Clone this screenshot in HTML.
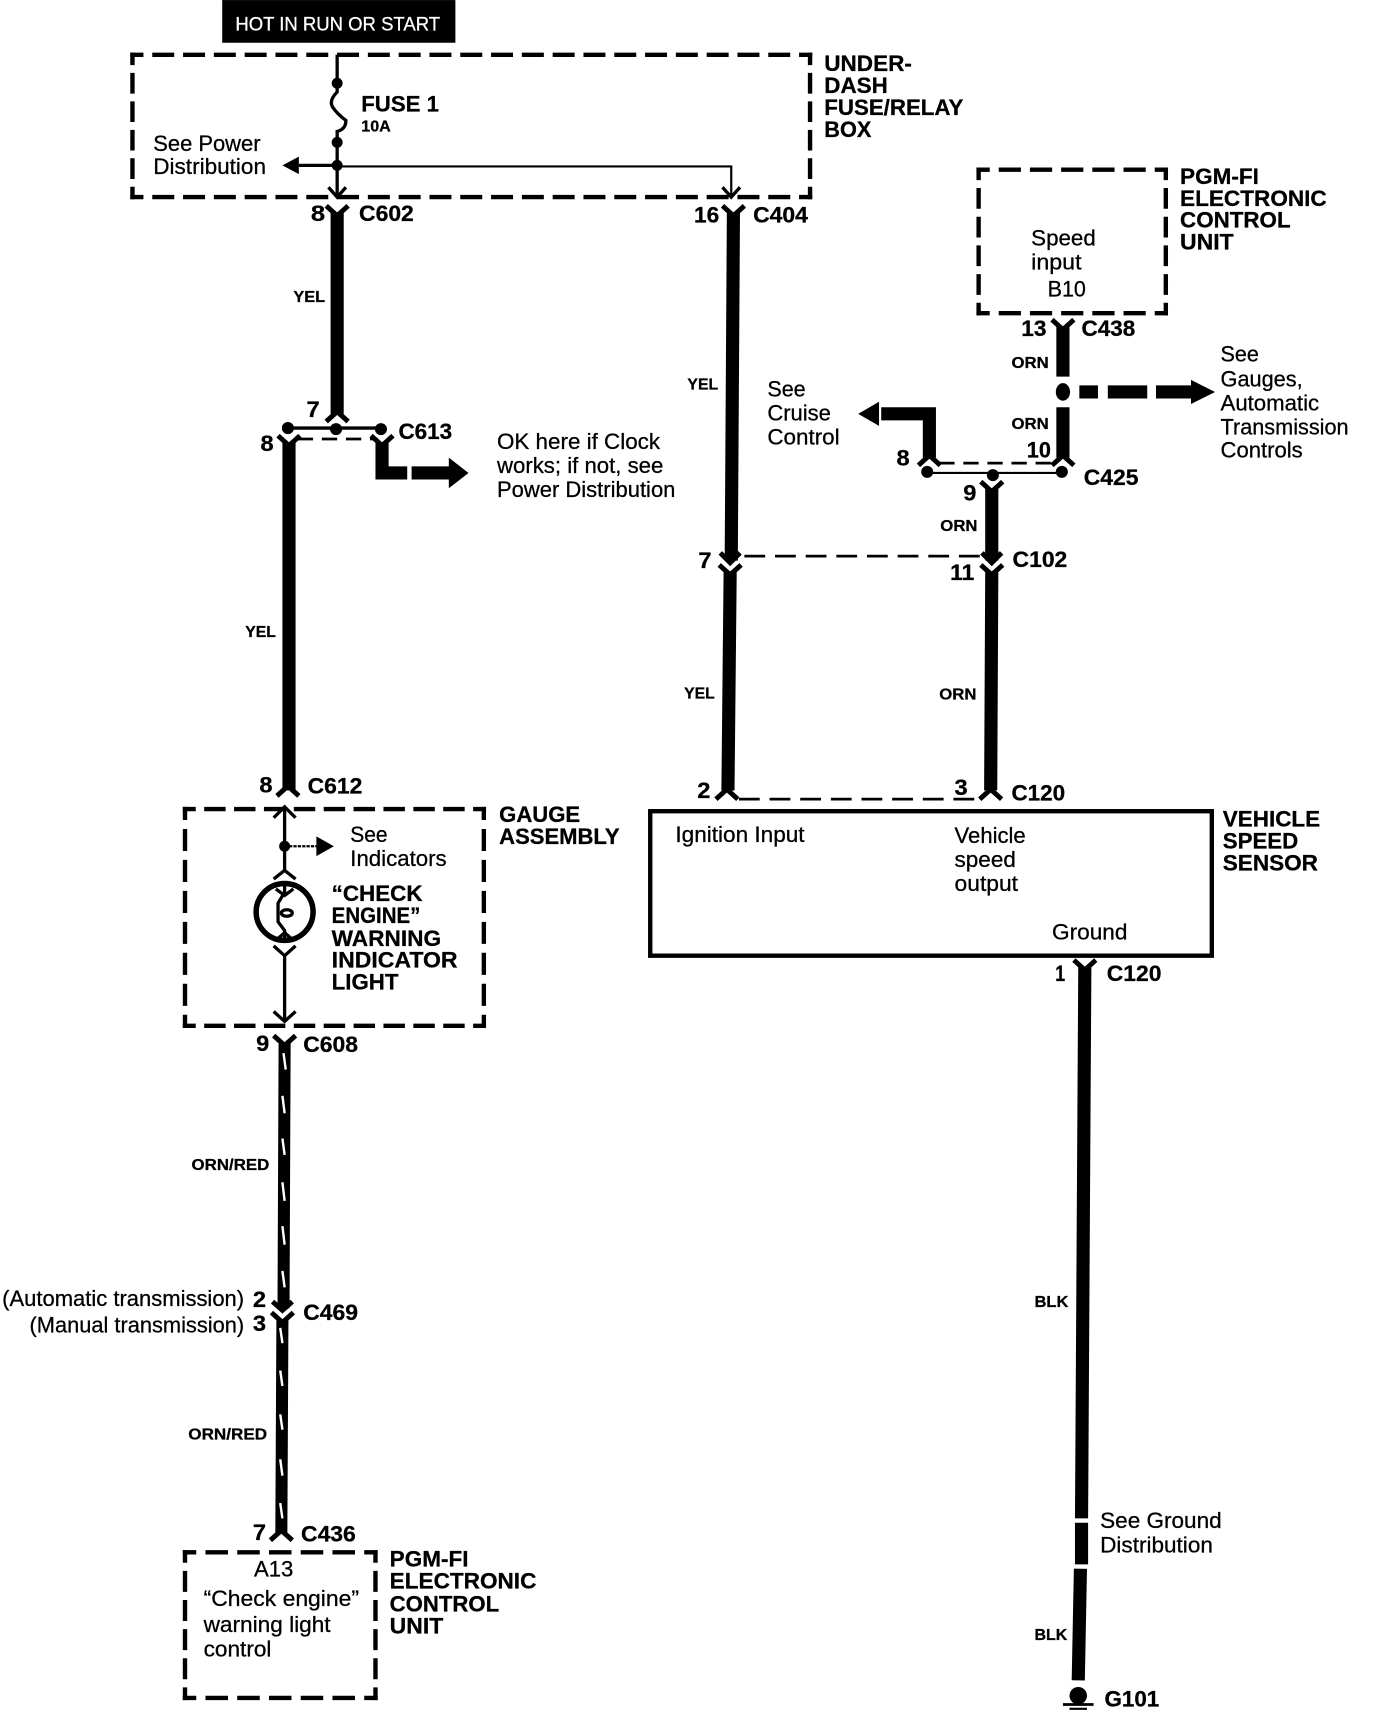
<!DOCTYPE html>
<html><head><meta charset="utf-8"><style>
html,body{margin:0;padding:0;background:#fff}
svg{display:block}
text{font-family:"Liberation Sans",sans-serif;fill:#000;font-size:20px;stroke:#000;stroke-width:.25px}
.b{font-weight:bold}
.s{font-weight:bold;font-size:14px}
.w{stroke:#000;fill:none}
.d{stroke:#000;fill:none;stroke-width:4;stroke-dasharray:16 12;stroke-dashoffset:8;stroke-linecap:square}
</style></head><body>
<svg xmlns="http://www.w3.org/2000/svg" width="1376" height="1716" viewBox="0 0 1257 1567.5">
<defs>
<path id="y" d="M-10,-7 L0,2 L10,-7" fill="none" stroke="#000" stroke-width="4.5"/>
</defs>
<rect width="1257" height="1568" fill="#fff"/>
<!-- title -->
<rect x="203" y="0" width="213" height="39" fill="#000"/>
<text x="215" y="28" style="fill:#fff;stroke:#fff;font-size:18px" textLength="187" lengthAdjust="spacingAndGlyphs">HOT IN RUN OR START</text>

<!-- dashed boxes -->
<path class="d" pathLength="616" d="M121,50H740"/>
<path class="d" pathLength="616" d="M121,180H740"/>
<path class="d" pathLength="140" d="M121,50V180"/>
<path class="d" pathLength="140" d="M740,50V180"/>

<path class="d" pathLength="168" d="M894,155H1065"/>
<path class="d" pathLength="168" d="M894,286H1065"/>
<path class="d" pathLength="140" d="M894,155V286"/>
<path class="d" pathLength="140" d="M1065,155V286"/>

<path class="d" pathLength="280" d="M169,739H442"/>
<path class="d" pathLength="280" d="M169,937H442"/>
<path class="d" pathLength="196" d="M169,739V937"/>
<path class="d" pathLength="196" d="M442,739V937"/>

<path class="d" pathLength="168" d="M169,1418H343"/>
<path class="d" pathLength="168" d="M169,1551H343"/>
<path class="d" pathLength="140" d="M169,1418V1551"/>
<path class="d" pathLength="140" d="M343,1418V1551"/>

<rect x="594" y="741" width="513" height="132" fill="none" stroke="#000" stroke-width="4"/>

<!-- fuse box internals -->
<g class="w" stroke-width="3">
<path d="M308,50V84Q300,92 304,98T316,110Q316,118 308,120V180"/>
<path d="M273,151H308"/>
<path d="M308,152H668V180" stroke-width="2"/>
<path d="M300,171L308,180L316,171M660,171L668,180L676,171"/>
</g>
<circle cx="308" cy="76" r="5"/><circle cx="308" cy="130" r="5"/><circle cx="308" cy="151" r="5"/>
<path d="M258,151L273,143V159Z"/>

<!-- thick wires -->
<g class="w" stroke-width="12">
<path d="M308,194V378"/>
<path d="M264,404V722"/>
<path d="M349,404V432H372"/>
<path d="M670,194L668,512"/>
<path d="M667,523L665,722"/>
<path d="M906,446V512"/>
<path d="M906,523L905,722"/>
<path d="M971,298V344"/>
<path d="M971,372V418"/>
<path d="M849,418V378H805"/>
<path d="M991,883L988,1387"/>
<path d="M988,1391V1429"/>
<path d="M987,1433L985,1535"/>
</g>
<g class="w" stroke-width="11">
<path d="M260,952L259,1195"/>
<path d="M258,1205L257,1400"/>
</g>
<!-- arrows -->
<path d="M376,426H410V418L428,432L410,446V438H376Z"/>
<path d="M784,378L803,367V389Z"/>
<path d="M986,352H1003V364H986ZM1012,352H1048V364H1012ZM1056,352H1088V347L1110,358L1088,369V364H1056Z"/>
<ellipse cx="971" cy="358" rx="6.5" ry="8"/>

<!-- connector marks -->
<use href="#y" x="308" y="195"/>
<use href="#y" x="670" y="195"/>
<use href="#y" x="971" y="299"/>
<use href="#y" x="264" y="405"/>
<use href="#y" x="349" y="405"/>
<use href="#y" x="906" y="447"/>
<use href="#y" x="667" y="523"/>
<use href="#y" x="906" y="523"/>
<use href="#y" x="991" y="884"/>
<use href="#y" x="260" y="953"/>
<use href="#y" x="258" y="1206"/>
<g transform="translate(308,378) scale(1,-1)"><use href="#y"/></g>
<g transform="translate(849,418) scale(1,-1)"><use href="#y"/></g>
<g transform="translate(971,418) scale(1,-1)"><use href="#y"/></g>
<g transform="translate(664,723) scale(1,-1)"><use href="#y"/></g>
<g transform="translate(905,723) scale(1,-1)"><use href="#y"/></g>
<g transform="translate(263,720) scale(1,-1)"><use href="#y"/></g>
<g transform="translate(257,1400) scale(1,-1)"><use href="#y"/></g>
<!-- arrow chevrons at in-line connectors -->
<g class="w" stroke-width="4.5">
<path d="M658,505L667,514L676,505"/>
<path d="M897,505L906,514L915,505"/>
<path d="M249,1189L258,1197L267,1189"/>
</g>

<!-- C613 / C425 -->
<path d="M263,391H348" class="w" stroke-width="3"/>
<path d="M272,401H345" class="w" stroke-width="2.5" stroke-dasharray="14 8"/>
<circle cx="263" cy="391" r="5.5"/><circle cx="307" cy="392" r="5.5"/><circle cx="348" cy="392" r="5.5"/>
<path d="M848,432H970" class="w" stroke-width="2"/>
<path d="M858,423H962" class="w" stroke-width="2.5" stroke-dasharray="14 8"/>
<circle cx="847" cy="431" r="5.5"/><circle cx="907" cy="434" r="5.5"/><circle cx="970" cy="431" r="5.5"/>
<path d="M680,508H895" class="w" stroke-width="2.5" stroke-dasharray="19 9"/>
<path d="M675,730H895" class="w" stroke-width="2.5" stroke-dasharray="19 9"/>

<!-- gauge internals -->
<g class="w" stroke-width="3">
<path d="M260,738V795M260,873V933"/>
<path d="M250,747L260,737L270,747M250,803L260,795L270,803M250,864L260,873L270,864M250,924L260,933L270,924"/>
<path d="M260,773H290" stroke-dasharray="3 1" stroke-width="2"/>
<path d="M260,808V815L254,825V842L260,850V858"/>
<path d="M252,812L260,818L268,812M252,859L260,852L268,859"/>
<ellipse cx="262" cy="834" rx="5" ry="3"/>
</g>
<circle cx="260" cy="773" r="5"/>
<path d="M305,773L289,764V782Z"/>
<circle cx="260" cy="833" r="26" fill="none" stroke="#000" stroke-width="5"/>

<!-- orn/red white slashes -->
<g stroke="#fff" stroke-width="2.2" fill="none">
<path d="M259,962L261,977M258,1001L260,1017M258,1040L260,1055M258,1080L260,1097M258,1120L260,1137M258,1161L260,1176"/>
<path d="M256,1213L258,1227M256,1252L258,1266M256,1292L258,1306M256,1333L258,1348M256,1373L258,1387"/>
</g>

<!-- ground -->
<circle cx="985" cy="1549" r="8"/>
<path d="M971,1557H999" class="w" stroke-width="2.5"/>
<path d="M977,1561H993" class="w" stroke-width="2"/>

<!-- labels bold -->
<g class="b">
<text x="753" y="65" textLength="80" lengthAdjust="spacingAndGlyphs">UNDER-</text>
<text x="753" y="85" textLength="58" lengthAdjust="spacingAndGlyphs">DASH</text>
<text x="753" y="105" textLength="127" lengthAdjust="spacingAndGlyphs">FUSE/RELAY</text>
<text x="753" y="125" textLength="43" lengthAdjust="spacingAndGlyphs">BOX</text>
<text x="330" y="102" textLength="71" lengthAdjust="spacingAndGlyphs">FUSE 1</text>
<text x="284" y="202" textLength="13" lengthAdjust="spacingAndGlyphs">8</text>
<text x="328" y="202" textLength="50" lengthAdjust="spacingAndGlyphs">C602</text>
<text x="280" y="381" textLength="12" lengthAdjust="spacingAndGlyphs">7</text>
<text x="238" y="412" textLength="12" lengthAdjust="spacingAndGlyphs">8</text>
<text x="364" y="401" textLength="49" lengthAdjust="spacingAndGlyphs">C613</text>
<text x="634" y="203" textLength="23" lengthAdjust="spacingAndGlyphs">16</text>
<text x="688" y="203" textLength="50" lengthAdjust="spacingAndGlyphs">C404</text>
<text x="1078" y="168" textLength="72" lengthAdjust="spacingAndGlyphs">PGM-FI</text>
<text x="1078" y="188" textLength="134" lengthAdjust="spacingAndGlyphs">ELECTRONIC</text>
<text x="1078" y="208" textLength="101" lengthAdjust="spacingAndGlyphs">CONTROL</text>
<text x="1078" y="228" textLength="49" lengthAdjust="spacingAndGlyphs">UNIT</text>
<text x="933" y="307" textLength="23" lengthAdjust="spacingAndGlyphs">13</text>
<text x="988" y="307" textLength="49" lengthAdjust="spacingAndGlyphs">C438</text>
<text x="819" y="425" textLength="12" lengthAdjust="spacingAndGlyphs">8</text>
<text x="938" y="418" textLength="22" lengthAdjust="spacingAndGlyphs">10</text>
<text x="880" y="457" textLength="12" lengthAdjust="spacingAndGlyphs">9</text>
<text x="990" y="443" textLength="50" lengthAdjust="spacingAndGlyphs">C425</text>
<text x="638" y="519" textLength="12" lengthAdjust="spacingAndGlyphs">7</text>
<text x="868" y="530" textLength="22" lengthAdjust="spacingAndGlyphs">11</text>
<text x="925" y="518" textLength="50" lengthAdjust="spacingAndGlyphs">C102</text>
<text x="237" y="724" textLength="12" lengthAdjust="spacingAndGlyphs">8</text>
<text x="281" y="725" textLength="50" lengthAdjust="spacingAndGlyphs">C612</text>
<text x="637" y="729" textLength="12" lengthAdjust="spacingAndGlyphs">2</text>
<text x="872" y="726" textLength="12" lengthAdjust="spacingAndGlyphs">3</text>
<text x="924" y="731" textLength="49" lengthAdjust="spacingAndGlyphs">C120</text>
<text x="456" y="751" textLength="74" lengthAdjust="spacingAndGlyphs">GAUGE</text>
<text x="456" y="771" textLength="110" lengthAdjust="spacingAndGlyphs">ASSEMBLY</text>
<text x="303" y="823" textLength="83" lengthAdjust="spacingAndGlyphs">“CHECK</text>
<text x="303" y="843" textLength="81" lengthAdjust="spacingAndGlyphs">ENGINE”</text>
<text x="303" y="864" textLength="100" lengthAdjust="spacingAndGlyphs">WARNING</text>
<text x="303" y="884" textLength="115" lengthAdjust="spacingAndGlyphs">INDICATOR</text>
<text x="303" y="904" textLength="61" lengthAdjust="spacingAndGlyphs">LIGHT</text>
<text x="1117" y="755" textLength="89" lengthAdjust="spacingAndGlyphs">VEHICLE</text>
<text x="1117" y="775" textLength="69" lengthAdjust="spacingAndGlyphs">SPEED</text>
<text x="1117" y="795" textLength="87" lengthAdjust="spacingAndGlyphs">SENSOR</text>
<text x="964" y="896" textLength="9" lengthAdjust="spacingAndGlyphs">1</text>
<text x="1011" y="896" textLength="50" lengthAdjust="spacingAndGlyphs">C120</text>
<text x="234" y="960" textLength="12" lengthAdjust="spacingAndGlyphs">9</text>
<text x="277" y="961" textLength="50" lengthAdjust="spacingAndGlyphs">C608</text>
<text x="231" y="1194" textLength="12" lengthAdjust="spacingAndGlyphs">2</text>
<text x="231" y="1216" textLength="12" lengthAdjust="spacingAndGlyphs">3</text>
<text x="277" y="1206" textLength="50" lengthAdjust="spacingAndGlyphs">C469</text>
<text x="231" y="1407" textLength="12" lengthAdjust="spacingAndGlyphs">7</text>
<text x="275" y="1408" textLength="50" lengthAdjust="spacingAndGlyphs">C436</text>
<text x="356" y="1431" textLength="72" lengthAdjust="spacingAndGlyphs">PGM-FI</text>
<text x="356" y="1451" textLength="134" lengthAdjust="spacingAndGlyphs">ELECTRONIC</text>
<text x="356" y="1472" textLength="100" lengthAdjust="spacingAndGlyphs">CONTROL</text>
<text x="356" y="1492" textLength="49" lengthAdjust="spacingAndGlyphs">UNIT</text>
<text x="1009" y="1559" textLength="50" lengthAdjust="spacingAndGlyphs">G101</text>
</g>
<!-- small bold -->
<text class="s" x="330" y="120" textLength="27" lengthAdjust="spacingAndGlyphs">10A</text>
<text class="s" x="268" y="276" textLength="29" lengthAdjust="spacingAndGlyphs">YEL</text>
<text class="s" x="224" y="582" textLength="28" lengthAdjust="spacingAndGlyphs">YEL</text>
<text class="s" x="628" y="356" textLength="28" lengthAdjust="spacingAndGlyphs">YEL</text>
<text class="s" x="625" y="638" textLength="28" lengthAdjust="spacingAndGlyphs">YEL</text>
<text class="s" x="924" y="336" textLength="34" lengthAdjust="spacingAndGlyphs">ORN</text>
<text class="s" x="924" y="392" textLength="34" lengthAdjust="spacingAndGlyphs">ORN</text>
<text class="s" x="859" y="485" textLength="34" lengthAdjust="spacingAndGlyphs">ORN</text>
<text class="s" x="858" y="639" textLength="34" lengthAdjust="spacingAndGlyphs">ORN</text>
<text class="s" x="175" y="1069" textLength="71" lengthAdjust="spacingAndGlyphs">ORN/RED</text>
<text class="s" x="172" y="1315" textLength="72" lengthAdjust="spacingAndGlyphs">ORN/RED</text>
<text class="s" x="945" y="1194" textLength="31" lengthAdjust="spacingAndGlyphs">BLK</text>
<text class="s" x="945" y="1498" textLength="30" lengthAdjust="spacingAndGlyphs">BLK</text>
<!-- regular -->
<text x="140" y="138" textLength="98" lengthAdjust="spacingAndGlyphs">See Power</text>
<text x="140" y="159" textLength="103" lengthAdjust="spacingAndGlyphs">Distribution</text>
<text x="454" y="410" textLength="149" lengthAdjust="spacingAndGlyphs">OK here if Clock</text>
<text x="454" y="432" textLength="152" lengthAdjust="spacingAndGlyphs">works; if not, see</text>
<text x="454" y="454" textLength="163" lengthAdjust="spacingAndGlyphs">Power Distribution</text>
<text x="701" y="362" textLength="35" lengthAdjust="spacingAndGlyphs">See</text>
<text x="701" y="384" textLength="58" lengthAdjust="spacingAndGlyphs">Cruise</text>
<text x="701" y="406" textLength="66" lengthAdjust="spacingAndGlyphs">Control</text>
<text x="942" y="224" textLength="59" lengthAdjust="spacingAndGlyphs">Speed</text>
<text x="942" y="246" textLength="46" lengthAdjust="spacingAndGlyphs">input</text>
<text x="957" y="271" textLength="35" lengthAdjust="spacingAndGlyphs">B10</text>
<text x="1115" y="330" textLength="35" lengthAdjust="spacingAndGlyphs">See</text>
<text x="1115" y="353" textLength="75" lengthAdjust="spacingAndGlyphs">Gauges,</text>
<text x="1115" y="375" textLength="90" lengthAdjust="spacingAndGlyphs">Automatic</text>
<text x="1115" y="397" textLength="117" lengthAdjust="spacingAndGlyphs">Transmission</text>
<text x="1115" y="418" textLength="75" lengthAdjust="spacingAndGlyphs">Controls</text>
<text x="320" y="769" textLength="34" lengthAdjust="spacingAndGlyphs">See</text>
<text x="320" y="791" textLength="88" lengthAdjust="spacingAndGlyphs">Indicators</text>
<text x="617" y="769" textLength="118" lengthAdjust="spacingAndGlyphs">Ignition Input</text>
<text x="872" y="770" textLength="65" lengthAdjust="spacingAndGlyphs">Vehicle</text>
<text x="872" y="792" textLength="56" lengthAdjust="spacingAndGlyphs">speed</text>
<text x="872" y="814" textLength="58" lengthAdjust="spacingAndGlyphs">output</text>
<text x="961" y="858" textLength="69" lengthAdjust="spacingAndGlyphs">Ground</text>
<text x="2" y="1193" textLength="221" lengthAdjust="spacingAndGlyphs">(Automatic transmission)</text>
<text x="27" y="1217" textLength="196" lengthAdjust="spacingAndGlyphs">(Manual transmission)</text>
<text x="232" y="1440" textLength="36" lengthAdjust="spacingAndGlyphs">A13</text>
<text x="186" y="1467" textLength="142" lengthAdjust="spacingAndGlyphs">“Check engine”</text>
<text x="186" y="1491" textLength="116" lengthAdjust="spacingAndGlyphs">warning light</text>
<text x="186" y="1513" textLength="62" lengthAdjust="spacingAndGlyphs">control</text>
<text x="1005" y="1396" textLength="111" lengthAdjust="spacingAndGlyphs">See Ground</text>
<text x="1005" y="1418" textLength="103" lengthAdjust="spacingAndGlyphs">Distribution</text>
</svg>
</body></html>
